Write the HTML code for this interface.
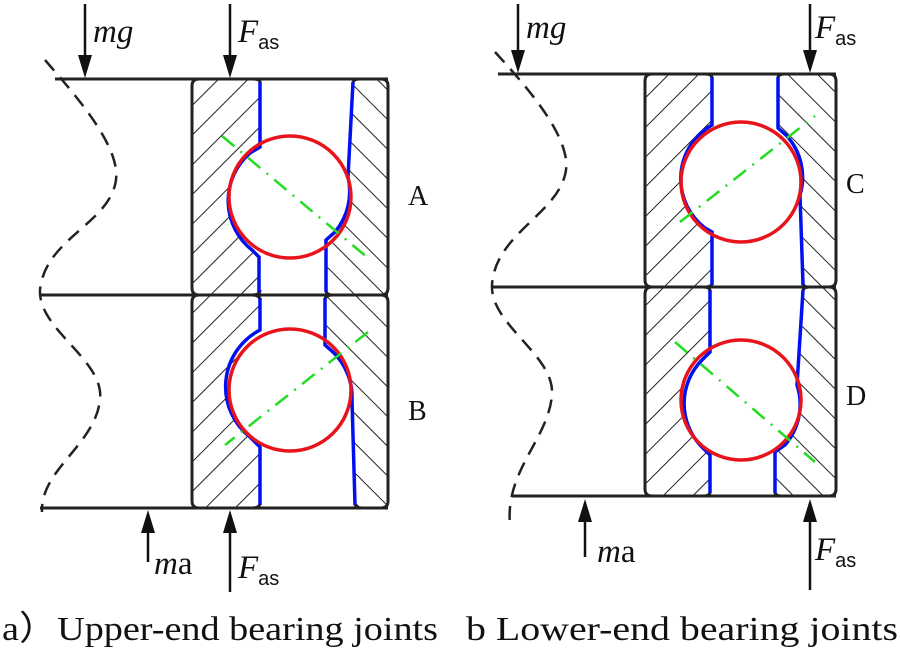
<!DOCTYPE html>
<html><head><meta charset="utf-8"><style>
body{margin:0;background:#fff;width:900px;height:648px;overflow:hidden}
svg{display:block}
text{font-family:"Liberation Serif",serif;fill:#111}
</style></head><body>
<svg width="900" height="648" viewBox="0 0 900 648" xmlns="http://www.w3.org/2000/svg">
<defs>
<pattern id="hf" width="21" height="21" patternUnits="userSpaceOnUse" patternTransform="rotate(45)"><line x1="0" y1="0" x2="0" y2="21" stroke="#222" stroke-width="2"/></pattern>
<pattern id="hb" width="21" height="21" patternUnits="userSpaceOnUse" patternTransform="rotate(-45)"><line x1="0" y1="0" x2="0" y2="21" stroke="#222" stroke-width="2"/></pattern>
</defs>

<!-- ===== Diagram a ===== -->
<polygon points="192,79 260,79 260,147 250,153 229,197 252,250 259,257 260,295 192,295" fill="url(#hf)"/>
<polygon points="353,79 388,79 388,295 326,295 326,240 335,232 351,200 348,177" fill="url(#hb)"/>
<polygon points="192,295 260,295 260,330 229,390 250,437 260,447 260,508 192,508" fill="url(#hf)"/>
<polygon points="325,295 388,295 388,508 355,508 352,400 333,352 325,345" fill="url(#hb)"/>
<g fill="none" stroke="#222" stroke-width="3" stroke-linejoin="round">
<path d="M260,82 Q260,79 252,79 H199 Q192,79 192,86 V288 Q192,295 199,295 H252 Q260,295 260,290"/>
<path d="M353,82 Q354,79 360,79 H381 Q388,79 388,86 V288 Q388,295 381,295 H332 Q326,295 326,290"/>
<path d="M260,300 Q260,295 252,295 H199 Q192,295 192,302 V501 Q192,508 199,508 H252 Q260,508 260,503"/>
<path d="M325,300 Q325,295 332,295 H381 Q388,295 388,302 V501 Q388,508 381,508 H362 Q355,508 355,503"/>
<line x1="55" y1="79" x2="388" y2="79"/>
<line x1="40" y1="295" x2="388" y2="295"/>
<line x1="40" y1="508" x2="388" y2="508"/>
</g>
<circle cx="290" cy="197" r="61" fill="#fff"/>
<circle cx="290" cy="390" r="61" fill="#fff"/>
<g fill="none" stroke="#0010ee" stroke-width="3.5">
<path d="M260,82 V147 L250,153 A63,63 0 0 0 252,250 L259,257 V292"/>
<path d="M353,82 L348,177 A63,63 0 0 1 335,232 L326,240 V292"/>
<path d="M260,298 V330 A64,64 0 0 0 250,437 L260,447 V505"/>
<path d="M325,298 V345 L333,352 A63,63 0 0 1 352,400 L355,505"/>
</g>
<circle cx="290" cy="197" r="61" fill="none" stroke="#e8141c" stroke-width="3.5"/>
<circle cx="290" cy="390" r="61" fill="none" stroke="#e8141c" stroke-width="3.5"/>
<g stroke="#22dd22" stroke-width="2.5" stroke-dasharray="16,8,2,8" fill="none">
<line x1="222" y1="136" x2="368" y2="258"/>
<line x1="368" y1="332" x2="225" y2="445"/>
</g>
<path d="M45,60 C75,95 125,150 115,185 C105,225 45,240 40,290 C38,330 105,360 100,400 C95,445 40,470 42,512" fill="none" stroke="#222" stroke-width="2.5" stroke-dasharray="14,9"/>
<g stroke="#111" stroke-width="2.5">
<line x1="85" y1="4" x2="85" y2="60"/>
<line x1="230" y1="4" x2="230" y2="60"/>
<line x1="148" y1="562" x2="148" y2="528"/>
<line x1="230" y1="592" x2="230" y2="528"/>
</g>
<g fill="#111">
<polygon points="78,55 92,55 85,78"/>
<polygon points="223,55 237,55 230,78"/>
<polygon points="141,533 155,533 148,510"/>
<polygon points="223,533 237,533 230,510"/>
</g>
<text x="93" y="42" font-size="33" font-style="italic">mg</text>
<text x="238" y="42" font-size="33" font-style="italic">F<tspan font-size="20" font-style="normal" font-family="Liberation Sans,sans-serif" dy="7">as</tspan></text>
<text x="154" y="574" font-size="33"><tspan font-style="italic">m</tspan>a</text>
<text x="238" y="578" font-size="33" font-style="italic">F<tspan font-size="20" font-style="normal" font-family="Liberation Sans,sans-serif" dy="7">as</tspan></text>
<text x="408" y="205" font-size="28">A</text>
<text x="408" y="420" font-size="28">B</text>

<!-- ===== Diagram b ===== -->
<polygon points="645,74 712,74 712,125 680,182 705,228 712,232 712,287 645,287" fill="url(#hf)"/>
<polygon points="778,74 836,74 836,287 803,287 800,195 786,135 778,128" fill="url(#hb)"/>
<polygon points="645,287 710,287 710,352 702,360 680,400 700,445 710,455 710,496 645,496" fill="url(#hf)"/>
<polygon points="803,287 836,287 836,496 775,496 775,452 785,445 801,410 797,385" fill="url(#hb)"/>
<g fill="none" stroke="#222" stroke-width="3" stroke-linejoin="round">
<path d="M712,78 Q712,74 705,74 H652 Q645,74 645,81 V280 Q645,287 652,287 H705 Q712,287 712,283"/>
<path d="M778,78 Q778,74 785,74 H829 Q836,74 836,81 V280 Q836,287 829,287 H808 Q803,287 803,283"/>
<path d="M710,291 Q710,287 703,287 H652 Q645,287 645,294 V489 Q645,496 652,496 H703 Q710,496 710,492"/>
<path d="M803,291 Q803,287 810,287 H829 Q836,287 836,294 V489 Q836,496 829,496 H782 Q775,496 775,492"/>
<line x1="498" y1="74" x2="836" y2="74"/>
<line x1="492" y1="287" x2="836" y2="287"/>
<line x1="512" y1="496" x2="836" y2="496"/>
</g>
<circle cx="741" cy="182" r="60" fill="#fff"/>
<circle cx="741" cy="400" r="60" fill="#fff"/>
<g fill="none" stroke="#0010ee" stroke-width="3.5">
<path d="M712,77 V125 A62,62 0 0 0 705,228 L712,232 V285"/>
<path d="M778,77 V128 L786,135 A62,62 0 0 1 800,195 L803,285"/>
<path d="M710,290 V352 L702,360 A62,62 0 0 0 700,445 L710,455 V493"/>
<path d="M803,290 L797,385 A62,62 0 0 1 785,445 L775,452 V493"/>
</g>
<circle cx="741" cy="182" r="60" fill="none" stroke="#e8141c" stroke-width="3.5"/>
<circle cx="741" cy="400" r="60" fill="none" stroke="#e8141c" stroke-width="3.5"/>
<g stroke="#22dd22" stroke-width="2.5" stroke-dasharray="16,8,2,8" fill="none">
<line x1="680" y1="222" x2="815" y2="116"/>
<line x1="675" y1="342" x2="815" y2="462"/>
</g>
<path d="M495,52 C525,85 575,140 565,175 C555,215 495,235 492,285 C490,325 555,355 552,395 C548,440 505,470 510,525" fill="none" stroke="#222" stroke-width="2.5" stroke-dasharray="14,9"/>
<g stroke="#111" stroke-width="2.5">
<line x1="518" y1="4" x2="518" y2="55"/>
<line x1="810" y1="4" x2="810" y2="55"/>
<line x1="585" y1="557" x2="585" y2="518"/>
<line x1="810" y1="590" x2="810" y2="518"/>
</g>
<g fill="#111">
<polygon points="511,50 525,50 518,73"/>
<polygon points="803,50 817,50 810,73"/>
<polygon points="578,522 592,522 585,499"/>
<polygon points="803,522 817,522 810,499"/>
</g>
<text x="526" y="38" font-size="33" font-style="italic">mg</text>
<text x="815" y="38" font-size="33" font-style="italic">F<tspan font-size="20" font-style="normal" font-family="Liberation Sans,sans-serif" dy="7">as</tspan></text>
<text x="597" y="562" font-size="33"><tspan font-style="italic">m</tspan>a</text>
<text x="815" y="560" font-size="33" font-style="italic">F<tspan font-size="20" font-style="normal" font-family="Liberation Sans,sans-serif" dy="7">as</tspan></text>
<text x="846" y="193" font-size="28">C</text>
<text x="846" y="405" font-size="28">D</text>

<text x="2" y="640" font-size="34" textLength="436" lengthAdjust="spacingAndGlyphs">a）Upper-end bearing joints</text>
<text x="466" y="640" font-size="34" textLength="432" lengthAdjust="spacingAndGlyphs">b  Lower-end bearing joints</text>
</svg>
</body></html>
